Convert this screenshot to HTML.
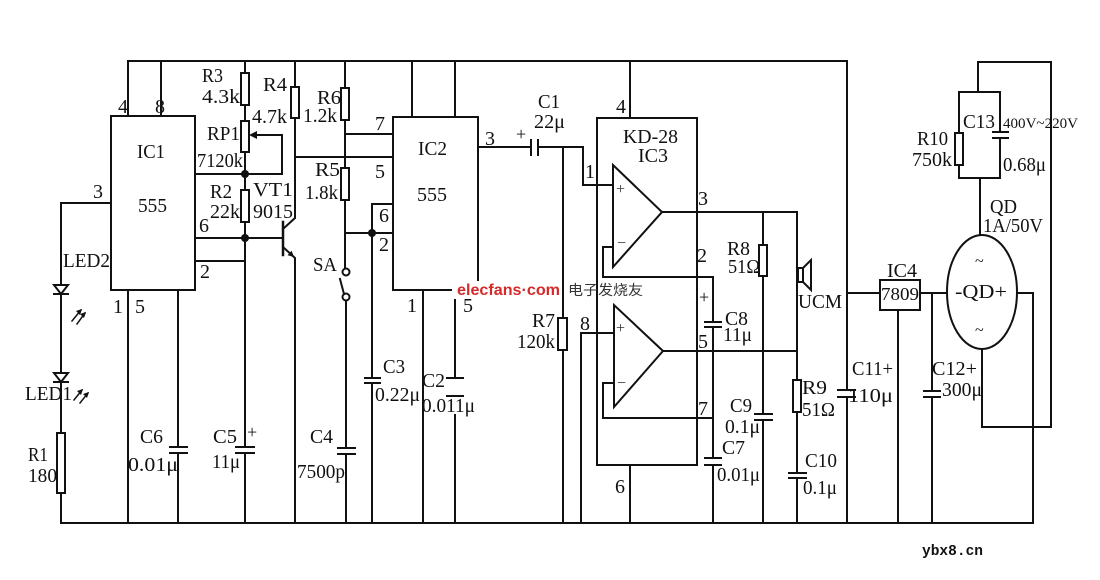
<!DOCTYPE html>
<html><head><meta charset="utf-8">
<style>
html,body{margin:0;padding:0;background:#fff;}
svg{display:block;}
text{font-family:"Liberation Serif",serif;font-size:20px;fill:#111;}
.s{font-size:16px;fill:#333;}
</style></head><body>
<svg width="1100" height="580" viewBox="0 0 1100 580" xmlns="http://www.w3.org/2000/svg">
<rect width="1100" height="580" fill="#fff"/>
<g stroke="#111" stroke-width="2" fill="none" stroke-linecap="square">
<!-- rails -->
<path d="M128 61 H847 M61 523 H1033"/>
<!-- IC1 -->
<rect x="111" y="116" width="84" height="174"/>
<path d="M128 61 V116 M161 61 V116"/>
<path d="M111 203 H61 V523"/>
<path d="M128 290 V523"/>
<path d="M178 290 V447 M178 453 V523 M170 447 H187 M170 453 H187"/>
<!-- LEDs -->
<polygon points="54,285 68,285 61,294" fill="#fff"/>
<path d="M54 294 H68"/>
<polygon points="54,373 68,373 61,382" fill="#fff"/>
<path d="M54 382 H68"/>
<path d="M72 321 L81 310 M77 324 L85 313 M74 400 L82 390 M80 403 L88 393" stroke-width="1.5"/>
<rect x="57" y="433" width="8" height="60" fill="#fff"/>
<!-- x=245 chain -->
<path d="M245 61 V447 M245 453 V523 M236 447 H254 M236 453 H254"/>
<rect x="241" y="73" width="8" height="32" fill="#fff"/>
<rect x="241" y="121" width="8" height="31" fill="#fff"/>
<rect x="241" y="190" width="8" height="32" fill="#fff"/>
<path d="M282 135 H254 M282 135 V174 H245"/>
<path d="M195 174 H245 M195 238 H283 M195 261 H245"/>
<!-- transistor -->
<path d="M283 222 V255" stroke-width="2.5"/>
<path d="M283 229 L295 218 V61 M283 247 L295 258 V523"/>
<rect x="291" y="87" width="8" height="31" fill="#fff"/>
<!-- R6/R5 chain -->
<path d="M295 157 H393 M345 61 V268.5 M345 134 H393 M345 233 H393 M372 204 H393"/>
<rect x="341" y="88" width="8" height="32" fill="#fff"/>
<rect x="341" y="168" width="8" height="32" fill="#fff"/>
<path d="M372 204 V378 M372 383 V523 M365 378 H380 M365 383 H380"/>
<circle cx="346" cy="272" r="3.5" fill="#fff"/>
<circle cx="346" cy="297" r="3.5" fill="#fff"/>
<path d="M344 294 L340 279"/>
<path d="M346 301 V448 M346 454 V523 M338 448 H355 M338 454 H355"/>
<!-- IC2 -->
<rect x="393" y="117" width="85" height="173"/>
<path d="M412 61 V117 M455 61 V117 M423 290 V523"/>
<path d="M455 290 V378 M447 378 H463 M447 396 H463 M455 415 V523"/>
<path d="M478 147 H531 M531 140 V155 M538 140 V155 M538 147 H583 V185 H613"/>
<path d="M563 147 V318 M563 350 V523"/>
<rect x="558" y="318" width="9" height="32" fill="#fff"/>
<!-- IC3 -->
<rect x="597" y="118" width="100" height="347"/>
<path d="M630 61 V118 M630 465 V523"/>
<polygon points="613,165 613,267 662,212"/>
<polygon points="614,305 614,407 663,351"/>
<path d="M662 212 H797 M663 351 H797"/>
<path d="M763 212 V414 M755 414 H772 M755 420 H772 M763 420 V523"/>
<rect x="759" y="245" width="8" height="31" fill="#fff"/>
<path d="M613 247 H603 V277 H713 V322 M705 322 H721 M705 327 H721 M713 327 V458 M705 458 H721 M705 465 H721 M713 465 V523"/>
<path d="M614 333 H581 V523 M614 383 H603 V418 H713"/>
<path d="M797 212 V473 M789 473 H806 M789 478 H806 M797 478 V523"/>
<rect x="793" y="380" width="8" height="32" fill="#fff"/>
<rect x="798" y="268" width="5" height="14" fill="#fff"/>
<polygon points="803,268 811,260 811,290 803,282" fill="#fff"/>
<!-- power section -->
<path d="M847 61 V390 M838 390 H855 M838 397 H855 M847 397 V523"/>
<path d="M847 293 H880 M898 310 V523 M920 293 H947"/>
<rect x="880" y="280" width="40" height="30" fill="#fff"/>
<path d="M932 293 V391 M924 391 H940 M924 397 H940 M932 397 V523"/>
<ellipse cx="982" cy="292" rx="35" ry="57"/>
<path d="M1017 293 H1033 V523"/>
<path d="M982 349 V427 H1051 V62 H978 V92"/>
<path d="M959 92 H1000 M959 92 V178 M1000 92 V132 M993 132 H1008 M993 138 H1008 M1000 138 V178 M959 178 H1000 M980 178 V235"/>
<rect x="955" y="133" width="8" height="32" fill="#fff"/>
</g>
<!-- arrowheads & dots -->
<g fill="#111">
<polygon points="249,135 257,131 257,139"/>
<polygon points="294,257 287.6,255.2 291.6,250.8"/>
<polygon points="82,309 76,311 80,315"/>
<polygon points="86,312 80,314 84,318"/>
<polygon points="83,389 77,391 81,395"/>
<polygon points="89,392 83,394 87,398"/>
<circle cx="245" cy="174" r="4"/>
<circle cx="245" cy="238" r="4"/>
<circle cx="372" cy="233" r="4"/>
</g>
<!-- watermark band -->
<rect x="452" y="281" width="196" height="18" fill="#fff"/>
<path d="M563 280 V300 M597 280 V300" stroke="#111" stroke-width="2"/>
<text x="457" y="295" style="font-family:'Liberation Sans',sans-serif;font-weight:bold;font-size:16px;fill:#d42a2a" textLength="103" lengthAdjust="spacingAndGlyphs">elecfans·com</text>
<text x="568" y="295" style="font-family:'Liberation Sans','Noto Sans CJK SC',sans-serif;font-size:14px;fill:#333" textLength="75" lengthAdjust="spacingAndGlyphs">电子发烧友</text>
<!-- labels -->
<text x="118" y="113">4</text>
<text x="155" y="113">8</text>
<text x="137" y="158" textLength="28" lengthAdjust="spacingAndGlyphs">IC1</text>
<text x="138" y="212" textLength="29" lengthAdjust="spacingAndGlyphs">555</text>
<text x="93" y="198">3</text>
<text x="63" y="267" textLength="47" lengthAdjust="spacingAndGlyphs">LED2</text>
<text x="199" y="232">6</text>
<text x="200" y="278">2</text>
<text x="197" y="167" textLength="46" lengthAdjust="spacingAndGlyphs">7120k</text>
<text x="202" y="82" textLength="21" lengthAdjust="spacingAndGlyphs">R3</text>
<text x="202" y="103" textLength="38" lengthAdjust="spacingAndGlyphs">4.3k</text>
<text x="207" y="140" textLength="33" lengthAdjust="spacingAndGlyphs">RP1</text>
<text x="210" y="198" textLength="22" lengthAdjust="spacingAndGlyphs">R2</text>
<text x="210" y="218" textLength="30" lengthAdjust="spacingAndGlyphs">22k</text>
<text x="263" y="91" textLength="24" lengthAdjust="spacingAndGlyphs">R4</text>
<text x="252" y="123" textLength="35" lengthAdjust="spacingAndGlyphs">4.7k</text>
<text x="253" y="196" textLength="40" lengthAdjust="spacingAndGlyphs">VT1</text>
<text x="253" y="218" textLength="40" lengthAdjust="spacingAndGlyphs">9015</text>
<text x="317" y="104" textLength="24" lengthAdjust="spacingAndGlyphs">R6</text>
<text x="303" y="122" textLength="34" lengthAdjust="spacingAndGlyphs">1.2k</text>
<text x="315" y="176" textLength="25" lengthAdjust="spacingAndGlyphs">R5</text>
<text x="305" y="199" textLength="33" lengthAdjust="spacingAndGlyphs">1.8k</text>
<text x="313" y="271" textLength="24" lengthAdjust="spacingAndGlyphs">SA</text>
<text x="375" y="130">7</text>
<text x="375" y="178">5</text>
<text x="379" y="222">6</text>
<text x="379" y="251">2</text>
<text x="418" y="155" textLength="29" lengthAdjust="spacingAndGlyphs">IC2</text>
<text x="417" y="201" textLength="30" lengthAdjust="spacingAndGlyphs">555</text>
<text x="485" y="145">3</text>
<text x="516" y="140" style="font-size:18px">+</text>
<text x="538" y="108" textLength="22" lengthAdjust="spacingAndGlyphs">C1</text>
<text x="534" y="128" textLength="31" lengthAdjust="spacingAndGlyphs">22μ</text>
<text x="585" y="178">1</text>
<text x="616" y="113">4</text>
<text x="623" y="143" textLength="55" lengthAdjust="spacingAndGlyphs">KD-28</text>
<text x="638" y="162" textLength="30" lengthAdjust="spacingAndGlyphs">IC3</text>
<text class="s" x="616" y="194">+</text>
<text class="s" x="617" y="248">−</text>
<text class="s" x="616" y="333">+</text>
<text class="s" x="617" y="388">−</text>
<text x="698" y="205">3</text>
<text x="697" y="262">2</text>
<text x="699" y="303" style="font-size:18px">+</text>
<text x="698" y="348">5</text>
<text x="698" y="415">7</text>
<text x="580" y="330">8</text>
<text x="615" y="493">6</text>
<text x="532" y="327" textLength="23" lengthAdjust="spacingAndGlyphs">R7</text>
<text x="517" y="348" textLength="38" lengthAdjust="spacingAndGlyphs">120k</text>
<text x="407" y="312">1</text>
<text x="463" y="312">5</text>
<text x="383" y="373" textLength="22" lengthAdjust="spacingAndGlyphs">C3</text>
<text x="375" y="401" textLength="45" lengthAdjust="spacingAndGlyphs">0.22μ</text>
<text x="422" y="387" textLength="23" lengthAdjust="spacingAndGlyphs">C2</text>
<text x="422" y="412" textLength="53" lengthAdjust="spacingAndGlyphs">0.011μ</text>
<text x="310" y="443" textLength="23" lengthAdjust="spacingAndGlyphs">C4</text>
<text x="297" y="478" textLength="48" lengthAdjust="spacingAndGlyphs">7500p</text>
<text x="140" y="443" textLength="23" lengthAdjust="spacingAndGlyphs">C6</text>
<text x="128" y="471" textLength="50" lengthAdjust="spacingAndGlyphs">0.01μ</text>
<text x="213" y="443" textLength="24" lengthAdjust="spacingAndGlyphs">C5</text>
<text x="247" y="438" style="font-size:18px">+</text>
<text x="212" y="468" textLength="28" lengthAdjust="spacingAndGlyphs">11μ</text>
<text x="25" y="400" textLength="47" lengthAdjust="spacingAndGlyphs">LED1</text>
<text x="28" y="461" textLength="20" lengthAdjust="spacingAndGlyphs">R1</text>
<text x="28" y="482" textLength="29" lengthAdjust="spacingAndGlyphs">180</text>
<text x="113" y="313">1</text>
<text x="135" y="313">5</text>
<text x="727" y="255" textLength="23" lengthAdjust="spacingAndGlyphs">R8</text>
<text x="728" y="273" textLength="32" lengthAdjust="spacingAndGlyphs">51Ω</text>
<text x="798" y="308" textLength="44" lengthAdjust="spacingAndGlyphs">UCM</text>
<text x="725" y="325" textLength="23" lengthAdjust="spacingAndGlyphs">C8</text>
<text x="723" y="341" textLength="29" lengthAdjust="spacingAndGlyphs">11μ</text>
<text x="730" y="412" textLength="22" lengthAdjust="spacingAndGlyphs">C9</text>
<text x="725" y="433" textLength="35" lengthAdjust="spacingAndGlyphs">0.1μ</text>
<text x="722" y="454" textLength="23" lengthAdjust="spacingAndGlyphs">C7</text>
<text x="717" y="481" textLength="43" lengthAdjust="spacingAndGlyphs">0.01μ</text>
<text x="802" y="394" textLength="25" lengthAdjust="spacingAndGlyphs">R9</text>
<text x="802" y="416" textLength="33" lengthAdjust="spacingAndGlyphs">51Ω</text>
<text x="805" y="467" textLength="32" lengthAdjust="spacingAndGlyphs">C10</text>
<text x="803" y="494" textLength="34" lengthAdjust="spacingAndGlyphs">0.1μ</text>
<text x="852" y="375" textLength="41" lengthAdjust="spacingAndGlyphs">C11+</text>
<text x="848" y="402" textLength="45" lengthAdjust="spacingAndGlyphs">110μ</text>
<text x="932" y="375" textLength="45" lengthAdjust="spacingAndGlyphs">C12+</text>
<text x="942" y="396" textLength="40" lengthAdjust="spacingAndGlyphs">300μ</text>
<text x="887" y="277" textLength="30" lengthAdjust="spacingAndGlyphs">IC4</text>
<text x="881" y="300" style="font-size:18px" textLength="38" lengthAdjust="spacingAndGlyphs">7809</text>
<text x="955" y="298" textLength="52" lengthAdjust="spacingAndGlyphs">-QD+</text>
<text x="975" y="266" style="font-size:16px">~</text>
<text x="975" y="335" style="font-size:16px">~</text>
<text x="917" y="145" textLength="31" lengthAdjust="spacingAndGlyphs">R10</text>
<text x="912" y="166" textLength="40" lengthAdjust="spacingAndGlyphs">750k</text>
<text x="963" y="128" textLength="32" lengthAdjust="spacingAndGlyphs">C13</text>
<text x="1003" y="128" style="font-size:15px" textLength="75" lengthAdjust="spacingAndGlyphs">400V~220V</text>
<text x="1003" y="171" textLength="43" lengthAdjust="spacingAndGlyphs">0.68μ</text>
<text x="990" y="213" textLength="27" lengthAdjust="spacingAndGlyphs">QD</text>
<text x="983" y="232" textLength="60" lengthAdjust="spacingAndGlyphs">1A/50V</text>
<text x="922" y="555" style="font-family:'Liberation Mono',monospace;font-size:15px;font-weight:bold" textLength="61" lengthAdjust="spacingAndGlyphs">ybx8.cn</text>
</svg>
</body></html>
